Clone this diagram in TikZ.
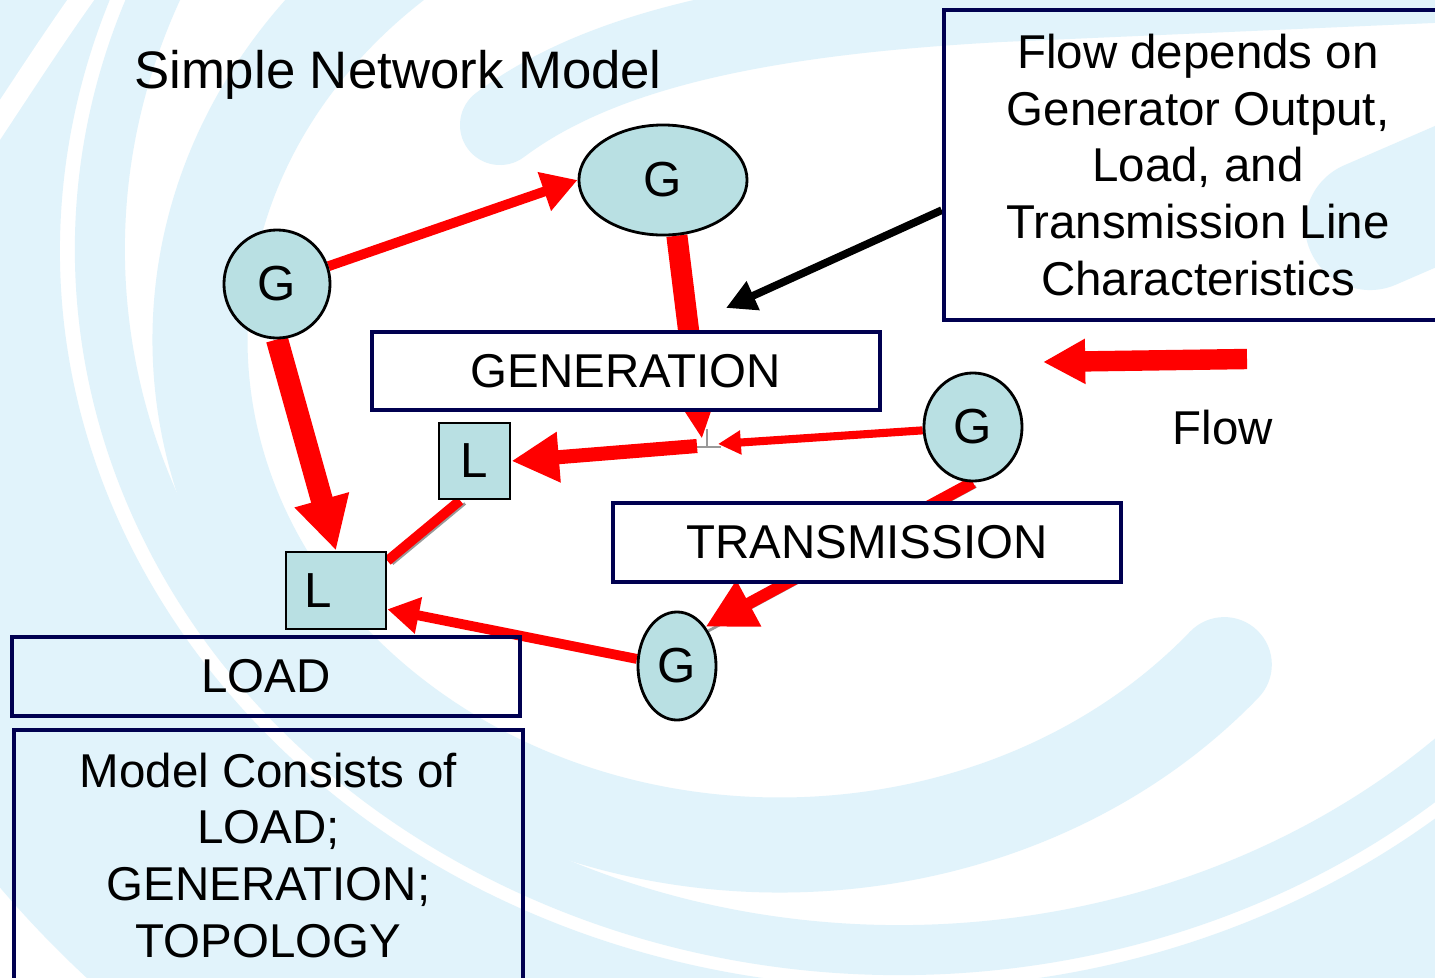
\documentclass[tikz,border=0pt]{standalone}
\usepackage{fontspec}
\setmainfont{Liberation Sans}
\usetikzlibrary{arrows.meta,shapes.geometric}
\definecolor{bgblue}{HTML}{E1F3FB}
\definecolor{gfill}{HTML}{B9E0E3}
\definecolor{navy}{HTML}{000050}
\pgfdeclarelayer{back}
\pgfdeclarelayer{links}
\pgfsetlayers{back,links,main}
\begin{document}
\begin{tikzpicture}[x=0.01cm, y=-0.01cm,
  every node/.style={font=\fontsize{13.5pt}{16.2pt}\selectfont},
  gnode/.style={ellipse, draw=black, line width=0.8pt, fill=gfill, inner sep=0pt,
                minimum height=1.08cm, font=\fontsize{14pt}{16pt}\selectfont},
  lnode/.style={rectangle, draw=black, line width=0.8pt, fill=gfill, inner sep=0pt,
                font=\fontsize{14pt}{16pt}\selectfont},
  labelbox/.style={rectangle, draw=navy, line width=1.2pt, inner sep=0pt,
                   minimum width=5.08cm, minimum height=0.785cm},
  band/.style={draw=bgblue, line cap=round},
  redarrow/.style={draw=red, line width=#1},
  shadow/.style={draw=gray!80, line width=0.8pt}
]
\useasboundingbox (0,0) rectangle (1435,978);

% ---------- nodes ----------
\node[font=\fontsize{15pt}{18pt}\selectfont, anchor=base] (title) at (398,88) {Simple Network Model};

\node[gnode, minimum width=1.06cm] (G1) at (277,284) {G};
\node[gnode, minimum width=1.68cm, minimum height=1.10cm] (G2) at (663,180) {G};
\node[gnode, minimum width=0.98cm] (G3) at (973,427) {G};
\node[gnode, minimum width=0.78cm] (G4) at (677,666) {G};
\node[lnode, minimum width=0.71cm, minimum height=0.76cm] (L1) at (474.5,461) {L};
\node[lnode, minimum width=1.0cm, minimum height=0.77cm] (L2) at (336,590.5) {\hspace*{-0.36cm}L};

\node[labelbox, fill=white] (GEN) at (626,371) {GENERATION};
\node[labelbox, fill=white] (TRA) at (867,542.5) {TRANSMISSION};
\node[labelbox] (LOAD) at (266,676.5) {LOAD};
\node[labelbox, minimum height=3.10cm, align=center] (TR) at (1198,165)
  {Flow depends on\\Generator Output,\\Load, and\\Transmission Line\\Characteristics};
\node[labelbox, minimum height=2.51cm, align=center] (MC) at (268.5,855.5)
  {Model Consists of\\LOAD;\\GENERATION;\\TOPOLOGY};
\node (flowlbl) at (1223,428) {Flow};

% ---------- free ends ----------
\coordinate (J) at (707,447);
\coordinate (Jtop) at (707,429);
\coordinate (Jl) at (695,447);
\coordinate (Jr) at (721,447);
\coordinate (Jn) at (702,439);
\coordinate (Jw) at (697,446);
\coordinate (Je) at (718,444);
\coordinate (FlowS) at (1247,359);
\coordinate (FlowE) at (1043,362);
\coordinate (BlackTip) at (726,308);

% ---------- connectors ----------
\begin{pgfonlayer}{links}
\draw[shadow] (Jtop) -- (J) (Jl) -- (Jr);
\draw[shadow, transform canvas={xshift=0.05cm, yshift=-0.03cm}] (L1.250) -- (L2.30);
\draw[shadow, transform canvas={xshift=0.03cm, yshift=-0.04cm}] (G3.south) -- (G4.north east);

\draw[redarrow=2.8pt, -{Triangle[length=10pt,width=11pt]}] (G1) -- (G2.west);
\draw[redarrow=6pt, -{Triangle[length=11pt,width=9.5pt]}] (G2.-76) -- (Jn);
\draw[redarrow=6.3pt, -{Triangle[length=15pt,width=15pt]}] (G1.south) -- (L2.north);
\draw[redarrow=4pt, -{Triangle[length=13.5pt,width=13.5pt]}] (Jw) -- (L1.east);
\draw[redarrow=2.3pt, -{Triangle[length=6.5pt,width=6.5pt]}] (G3) -- (Je);
\draw[redarrow=3.4pt, -{Triangle[length=14pt,width=14pt]}] (G3.south) -- (G4.north east);
\draw[redarrow=2.8pt, -{Triangle[length=9pt,width=10pt]}] (G4.170) -- (L2.-20);
\draw[redarrow=2.8pt] (L1.250) -- (L2.30);
\draw[redarrow=5.8pt, -{Triangle[length=12pt,width=12pt]}] (FlowS) -- (FlowE);
\draw[draw=black, line width=2.2pt, -{Triangle[length=8.5pt,width=8.5pt]}] (TR.190) -- (BlackTip);
\end{pgfonlayer}

% ---------- background swirl ----------
\begin{pgfonlayer}{back}
\fill[white] (0,0) rectangle (1435,978);
\draw[bgblue, line width=3cm] ([shift={(900,250)}]10:990 and 888)
  arc[start angle=10, end angle=330, x radius=990, y radius=888];
\draw[band, line width=0.5cm] ([shift={(900,250)}]30:800 and 700)
  arc[start angle=30, end angle=275, x radius=800, y radius=700];
\draw[band, line width=0.95cm] ([shift={(780,340)}]40:580 and 505)
  arc[start angle=40, end angle=262, x radius=580, y radius=505];
\draw[band, line width=0.8cm] (500,125) .. controls (600,50) and (760,15) .. (1000,2) -- (1500,-20);
\draw[band, line width=1.3cm] (1370,225) -- (1520,160);
\draw[white, line width=0.22cm] (-20,150) .. controls (20,90) and (55,35) .. (95,-20);
\end{pgfonlayer}
\end{tikzpicture}
\end{document}
